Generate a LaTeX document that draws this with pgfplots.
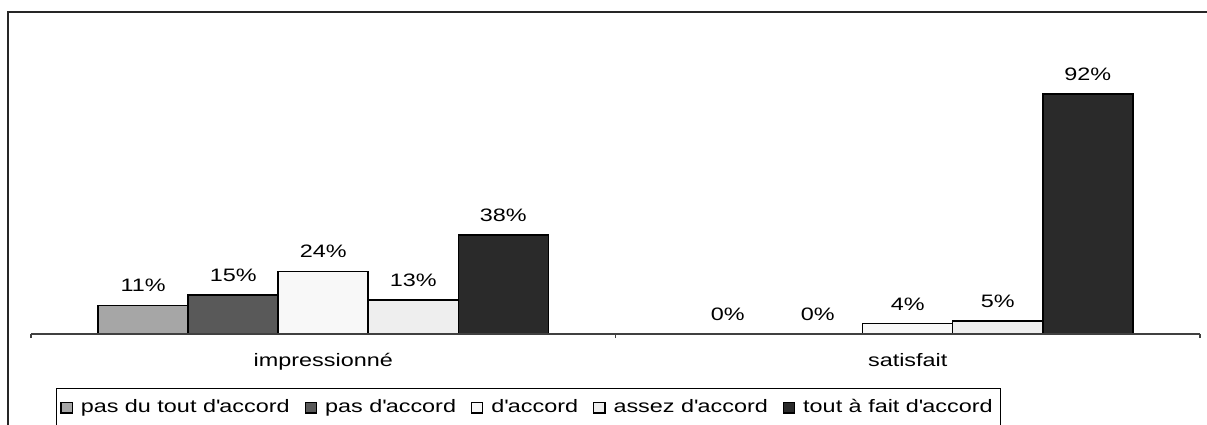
\documentclass[border=0pt]{standalone}
\usepackage{fontspec}
\setmainfont{Liberation Sans}[FakeStretch=1.3]
\usepackage{pgfplots}
\pgfplotsset{compat=1.18}
\definecolor{c1}{HTML}{A6A6A6}
\definecolor{c2}{HTML}{595959}
\definecolor{c3}{HTML}{F8F8F8}
\definecolor{c4}{HTML}{EEEEEE}
\definecolor{c5}{HTML}{2A2A2A}
\begin{document}
\begin{tikzpicture}[font=\fontsize{9}{11}\selectfont]
\begin{axis}[
  scale only axis, width=584.5pt, height=130.5pt,
  xmin=-0.5, xmax=1.5, ymin=0, ymax=100,
  axis x line*=bottom, axis y line=none,
  axis on top,
  x axis line style={black!75, line width=0.8pt},
  xtick={0,1}, xticklabels={impressionné, satisfait},
  major x tick style={draw=none},
  minor xtick={-0.5,0.5,1.5},
  minor tick length=2pt, tick align=outside,
  minor x tick style={black!75, line width=0.6pt},
  xticklabel style={yshift=-2pt},
  ybar=0pt, bar width=45pt,
  clip=false,
  nodes near coords={\pgfmathprintnumber[assume math mode=true]{\pgfplotspointmeta}\%},
  every node near coord/.append style={yshift=3pt},
  legend style={at={(0.4256,-0.2816)}, anchor=center, legend columns=-1,
    draw=black, line width=0.5pt, inner xsep=2pt, inner ysep=3.4pt,
    /tikz/every even column/.append style={column sep=5.5pt},
    /tikz/every odd column/.append style={column sep=2pt}},
  legend image code/.code={\draw[#1, line width=0.6pt] (0pt,-2.7pt) rectangle (5.6pt,2.7pt);},
  every axis plot/.append style={draw=black, line width=0.75pt},
]
\addplot[fill=c1] coordinates {(0,11) (1,0)};
\addplot[fill=c2] coordinates {(0,15) (1,0)};
\addplot[fill=c3] coordinates {(0,24) (1,4)};
\addplot[fill=c4] coordinates {(0,13) (1,5)};
\addplot[fill=c5] coordinates {(0,38) (1,92)};
\legend{pas du tout d\textquotesingle accord, pas d\textquotesingle accord, d\textquotesingle accord, assez d\textquotesingle accord, tout à fait d\textquotesingle accord}
\end{axis}
\draw[black!85, line width=1pt] (600pt,161pt) -- (-11.5pt,161pt) -- (-11.5pt,-60pt);
\pgfresetboundingbox
\useasboundingbox (-15.5pt,-45pt) rectangle (588pt,167pt);
\end{tikzpicture}
\end{document}
